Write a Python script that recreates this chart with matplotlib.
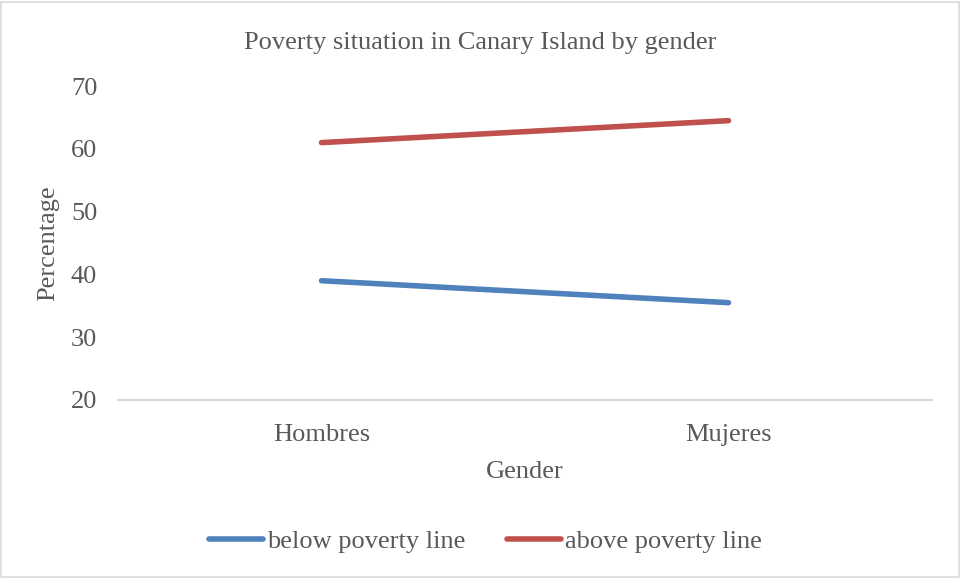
import matplotlib
matplotlib.use('Agg')
from matplotlib import pyplot as plt
from matplotlib.patches import Rectangle

# data
genders = ['Hombres', 'Mujeres']
below_line = [39.0, 35.5]
above_line = [61.0, 64.5]
y_ticks = [20, 30, 40, 50, 60, 70]

txt = '#595959'
fs = 19
plt.rcParams['font.family'] = ['Liberation Serif', 'DejaVu Serif']
plt.rcParams['font.size'] = fs

fig = plt.figure(figsize=(9.61, 5.78), dpi=100)
ax = fig.add_axes([0.1228, 0.308, 0.847, 0.543])

x = [0, 1]
ax.plot(x, below_line, color='#4F81BD', lw=4.0, solid_capstyle='round', label='below poverty line')
ax.plot(x, above_line, color='#C0504D', lw=4.0, solid_capstyle='round', label='above poverty line')

ax.set_xlim(-0.5, 1.5)
ax.set_ylim(20, 70)
ax.set_yticks(y_ticks)
ax.set_xticks(x)
ax.set_xticklabels(genders)
ax.tick_params(length=0, colors=txt, labelsize=fs)
ax.tick_params(axis='y', pad=15)
ax.tick_params(axis='x', pad=17)

for s in ['top', 'right', 'left']:
    ax.spines[s].set_visible(False)
ax.spines['bottom'].set_color('#D9D9D9')
ax.spines['bottom'].set_linewidth(1.5)

ax.set_xlabel('Gender', color=txt, fontsize=fs, labelpad=11)
ax.set_ylabel('Percentage', color=txt, fontsize=fs, labelpad=8)
fig.text(0.5, 0.925, 'Poverty situation in Canary Island by gender', ha='center', va='center',
         color=txt, fontsize=fs)

leg = fig.legend(loc='center', bbox_to_anchor=(0.505, 0.064), ncol=2, frameon=False,
                 handlelength=2.05, handletextpad=0.15, columnspacing=1.6, fontsize=fs)
for t in leg.get_texts():
    t.set_color(txt)

# light frame round the chart
fig.patches.append(Rectangle((0.001, 0.002), 0.997, 0.995, transform=fig.transFigure,
                             fill=False, edgecolor='#D9D9D9', lw=1.2))

fig.savefig('out.png', dpi=100)
